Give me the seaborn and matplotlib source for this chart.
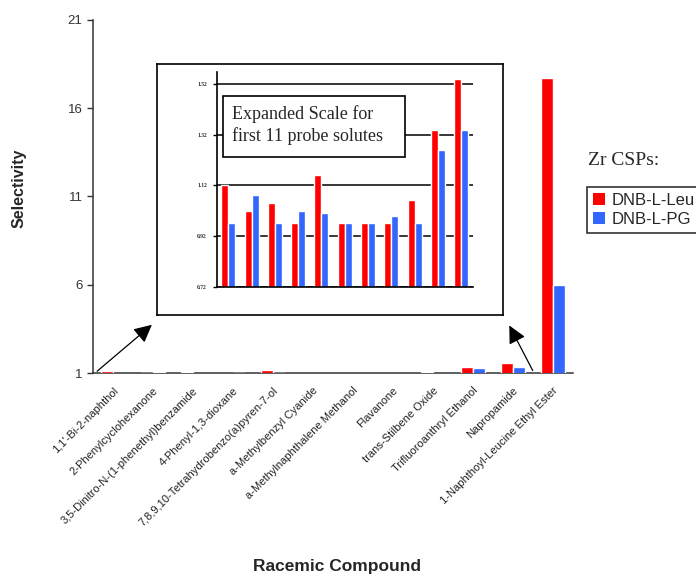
import numpy as np
import pandas as pd
import matplotlib
matplotlib.use("Agg")
import matplotlib.pyplot as plt
from matplotlib.patches import Patch, Rectangle, FancyArrowPatch
from matplotlib.transforms import ScaledTranslation
import seaborn as sns

# Data
compounds = ["1,1'-Bi-2-naphthol", "2-Phenylcyclohexanone",
             "3,5-Dinitro-N-(1-phenethyl)benzamide", "4-Phenyl-1,3-dioxane",
             "7,8,9,10-Tetrahydrobenzo(a)pyren-7-ol", "a-Methylbenzyl Cyanide",
             "a-Methylnaphthalene Methanol", "Flavanone", "trans-Stilbene Oxide",
             "Trifluoroanthryl Ethanol", "Napropamide",
             "1-Naphthoyl-Leucine Ethyl Ester"]
leu = [1.12, 1.02, 1.05, 0.97, 1.16, 0.97, 0.97, 0.97, 1.06, 1.34, 1.54, 17.7]
pg = [0.97, 1.08, 0.97, 1.02, 1.01, 0.97, 0.97, 1.00, 0.97, 1.26, 1.34, 6.0]
csps = ["DNB-L-Leu", "DNB-L-PG"]
colors = ["#FF0000", "#3366FF"]
main_ticks = [1, 6, 11, 16, 21]
inset_ticks = [0.72, 0.92, 1.12, 1.32, 1.52]

df = pd.DataFrame({
    "compound": compounds * 2,
    "csp": [csps[0]] * len(compounds) + [csps[1]] * len(compounds),
    "selectivity": leu + pg,
})
# main axis starts at 1, so only values above it show up there
df_main = df[df["selectivity"] > 1]
df_in = df[df["compound"] != compounds[-1]]

sns.set_style("white")
plt.rcParams["font.family"] = ["Liberation Sans", "DejaVu Sans"]

W, H = 696, 575
fig = plt.figure(figsize=(W / 100, H / 100), dpi=100)

def fx(px):
    return px / W

def fy(py):
    return 1 - py / H

# main chart
ax = fig.add_axes([fx(93), fy(373), fx(573) - fx(93), fy(20) - fy(373)])
sns.barplot(data=df_main, x="compound", y="selectivity", hue="csp", order=compounds,
            hue_order=csps, palette=colors, width=0.62, saturation=1,
            legend=False, ax=ax, zorder=3)
ax.set_ylim(1, 21)
ax.set_xlim(-0.5, len(compounds) - 0.5)
ax.set_yticks(main_ticks)
ax.set_yticklabels([str(t) for t in main_ticks], fontsize=9.5, color="#333333")
ax.set_xticks(range(len(compounds)))
ax.set_xticklabels(compounds, rotation=45, ha="right", rotation_mode="anchor",
                   fontsize=8, color="#222222")
shift = ScaledTranslation(-4 / 72, -1 / 72, fig.dpi_scale_trans)
for lab in ax.get_xticklabels():
    lab.set_transform(lab.get_transform() + shift)
ax.set_xticks(np.arange(-0.5, len(compounds)), minor=True)
ax.tick_params(axis="x", which="major", length=0, pad=9)
ax.tick_params(axis="x", which="minor", length=4, width=1, color="#333333", direction="out")
ax.tick_params(axis="y", length=4, width=1, color="#333333", direction="out", left=True)
for s in ["top", "right"]:
    ax.spines[s].set_visible(False)
for s in ["left", "bottom"]:
    ax.spines[s].set_color("#333333")
    ax.spines[s].set_linewidth(1.1)
    ax.spines[s].set_zorder(2)
ax.set_xlabel("")
ax.set_ylabel("")
fig.text(fx(337), fy(566), "Racemic Compound", ha="center", va="center",
         fontsize=12.5, fontweight="bold")
fig.text(fx(19), fy(188), "Selectivity", ha="center", va="center",
         rotation=90, fontsize=11.5, fontweight="bold")

# inset frame
frame = fig.add_axes([fx(157), fy(315), fx(503) - fx(157), fy(64) - fy(315)])
frame.set_xticks([])
frame.set_yticks([])
frame.set_facecolor("white")
for s in frame.spines.values():
    s.set_color("black")
    s.set_linewidth(1.2)

# inset chart
axi = fig.add_axes([fx(216.7), fy(286.7), fx(472.7) - fx(216.7), fy(71.7) - fy(286.7)])
sns.barplot(data=df_in, x="compound", y="selectivity", hue="csp",
            order=compounds[:-1], hue_order=csps, palette=colors, width=0.6,
            saturation=1, legend=False, ax=axi, zorder=3)
axi.set_ylim(0.72, 1.568)
axi.set_xlim(-0.5, len(compounds) - 1.5)
axi.set_yticks(inset_ticks)
axi.set_yticklabels([f"{t:.2f}" for t in inset_ticks], fontsize=4,
                    family="Liberation Serif", fontweight="bold")
axi.set_xticks([])
axi.yaxis.grid(True, color="black", linewidth=1.1)
axi.set_axisbelow(True)
axi.tick_params(axis="y", length=3, width=1, color="black", left=True, pad=4)
for s in ["top", "right"]:
    axi.spines[s].set_visible(False)
for s in ["left", "bottom"]:
    axi.spines[s].set_color("black")
    axi.spines[s].set_linewidth(1.2)
    axi.spines[s].set_zorder(4)
axi.set_xlabel("")
axi.set_ylabel("")
axi.set_facecolor("none")

# text box in inset
box = Rectangle((fx(223), fy(157)), fx(405) - fx(223), fy(96) - fy(157),
                transform=fig.transFigure, facecolor="white", edgecolor="black",
                linewidth=1.2, zorder=5)
fig.add_artist(box)
fig.text(fx(232), fy(105), "Expanded Scale for\nfirst 11 probe solutes",
         ha="left", va="top", fontsize=13, family="Liberation Serif",
         linespacing=1.3, zorder=6)

# arrows
arrow_kw = dict(arrowstyle="-|>,head_length=0.9,head_width=0.45", color="black", lw=0.9)
fig.add_artist(FancyArrowPatch((fx(95), fy(373)), (fx(154), fy(323)),
                               transform=fig.transFigure, mutation_scale=12, **arrow_kw))
fig.add_artist(FancyArrowPatch((fx(534), fy(373)), (fx(508), fy(323)),
                               transform=fig.transFigure, mutation_scale=12, **arrow_kw))

# legend
fig.text(fx(588), fy(165), "Zr CSPs:", ha="left", va="baseline",
         fontsize=14, family="Liberation Serif")
handles = [Patch(facecolor=c, edgecolor="none") for c in colors]
leg = fig.legend(handles, csps, loc="upper left",
                 bbox_to_anchor=(fx(587), fy(187)), frameon=True, fancybox=False,
                 edgecolor="black", fontsize=12, handlelength=0.7,
                 handleheight=0.7, handletextpad=0.4, borderpad=0.35,
                 labelspacing=0.25, borderaxespad=0)
leg.get_frame().set_linewidth(1.2)

fig.savefig("out.png", dpi=100)
